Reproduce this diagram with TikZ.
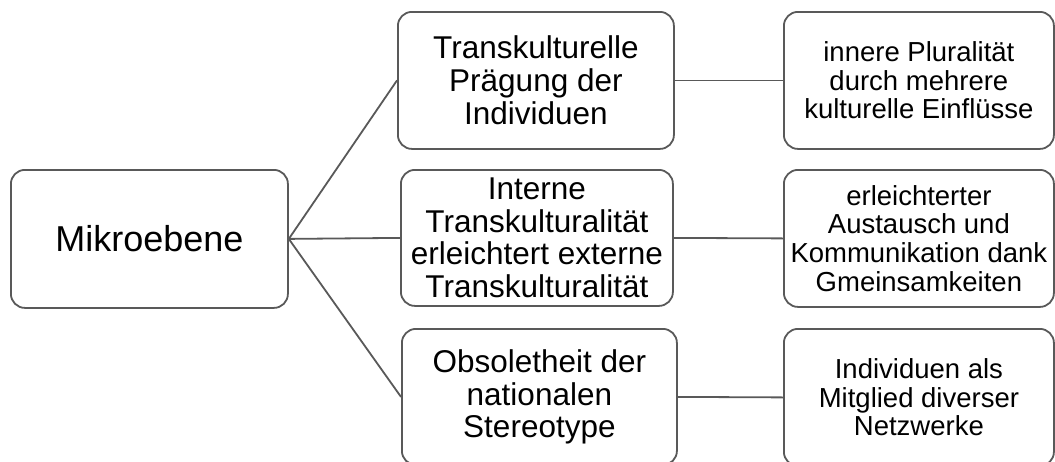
\documentclass[tikz,border=0pt]{standalone}
\usepackage{fontspec}
\setmainfont{Liberation Sans}
\definecolor{edge}{HTML}{595959}
\begin{document}
\begin{tikzpicture}[x=1pt,y=-1pt,
  box/.style={draw=edge,line width=1.8pt,rounded corners=14pt,align=center,inner sep=0pt,anchor=north west},
  conn/.style={draw=edge,line width=1.8pt},
  big/.style={font=\fontsize{36}{40}\selectfont},
  mid/.style={font=\fontsize{31.5}{32.7}\selectfont},
  small/.style={font=\fontsize{27.5}{28.7}\selectfont}]
\useasboundingbox (0,0) rectangle (1055,461);
\clip (0,0) rectangle (1055,461);
\node[box,big,minimum width=277pt,minimum height=138pt] (m) at (10,169) {Mikroebene};
\node[box,mid,minimum width=276pt,minimum height=137pt] (a1) at (397,11) {Transkulturelle\\Prägung der\\Individuen};
\node[box,mid,minimum width=272pt,minimum height=136pt] (a2) at (400,169) {Interne\\Transkulturalität\\erleichtert externe\\Transkulturalität};
\node[box,mid,minimum width=275pt,minimum height=136pt] (a3) at (401,328) {Obsoletheit der\\nationalen\\Stereotype};
\node[box,small,minimum width=270pt,minimum height=137pt] (b1) at (783,11) {innere Pluralität\\durch mehrere\\kulturelle Einflüsse};
\node[box,small,minimum width=270pt,minimum height=137pt] (b2) at (783,169) {erleichterter\\Austausch und\\Kommunikation dank\\Gmeinsamkeiten};
\node[box,small,minimum width=270pt,minimum height=137pt] (b3) at (783,328) {Individuen als\\Mitglied diverser\\Netzwerke};
\draw[conn] (m.east) -- (a1.west);
\draw[conn] (m.east) -- (a2.west);
\draw[conn] (m.east) -- (a3.west);
\draw[conn] (a1.east) -- (b1.west);
\draw[conn] (a2.east) -- (b2.west);
\draw[conn] (a3.east) -- (b3.west);
\end{tikzpicture}
\end{document}
